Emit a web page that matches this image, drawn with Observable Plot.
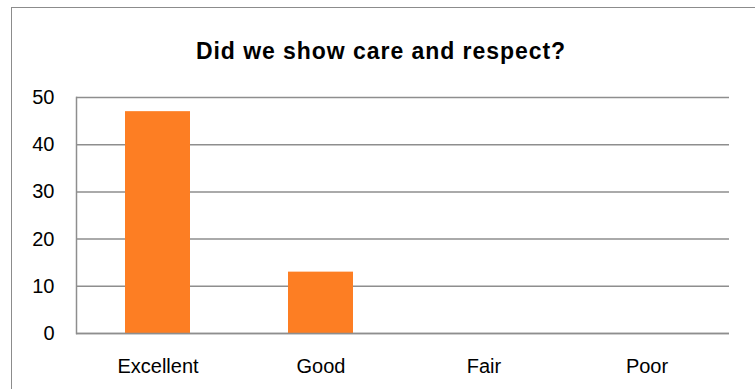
<!DOCTYPE html>
<html>
<head>
<meta charset="utf-8">
<script src="https://cdn.jsdelivr.net/npm/d3@7"></script>
<script src="https://cdn.jsdelivr.net/npm/@observablehq/plot@0.6"></script>
<style>
  html, body { margin: 0; padding: 0; background: #fff; }
  #page { position: relative; width: 755px; height: 389px; overflow: hidden; font-family: "Liberation Sans", Arial, sans-serif; }
  #frame { position: absolute; left: 11px; top: 7px; width: 800px; height: 420px; border-top: 1px solid #8c8c8c; border-left: 1px solid #8c8c8c; }
  #title { position: absolute; left: 0; top: 19px; width: 762px; height: 64px; line-height: 64px; text-align: center; font-weight: bold; font-size: 23px; letter-spacing: 0.95px; color: #000; }
  #chart { position: absolute; left: 0; top: 81px; }
</style>
</head>
<body>
<div id="page">
  <div id="frame"></div>
  <div id="title">Did we show care and respect?</div>
  <div id="chart"></div>
</div>
<script>
const categories = ["Excellent", "Good", "Fair", "Poor"];
const values = [47, 13, 0, 0];
const yTicks = [0, 10, 20, 30, 40, 50];

const data = categories.map((c, i) => ({category: c, value: values[i]}));
const gridColor = "#8e8e8e";

const plot = Plot.plot({
  width: 755,
  height: 308,
  marginLeft: 76,
  marginRight: 26,
  marginTop: 16,
  marginBottom: 56,
  style: {fontFamily: "Liberation Sans, Arial, sans-serif", fontSize: "20px", color: "#000", background: "transparent", overflow: "visible"},
  x: {domain: categories, paddingInner: 0.6, paddingOuter: 0.3, label: null},
  y: {domain: [0, 50], ticks: yTicks, label: null},
  marks: [
    Plot.gridY(yTicks, {stroke: gridColor, strokeOpacity: 1, strokeWidth: 1.5}),
    Plot.barY(data, {x: "category", y: "value", fill: "#fd7e23"}),
    Plot.frame({anchor: "left", stroke: gridColor, strokeWidth: 1.5}),
    Plot.ruleY([0], {stroke: gridColor, strokeWidth: 1.5}),
    Plot.axisY(yTicks, {tickSize: 0, tickPadding: 22, fontSize: 20, label: null}),
    Plot.axisX({tickSize: 0, tickPadding: 25, fontSize: 20, label: null})
  ]
});
document.getElementById("chart").appendChild(plot);
</script>
</body>
</html>
